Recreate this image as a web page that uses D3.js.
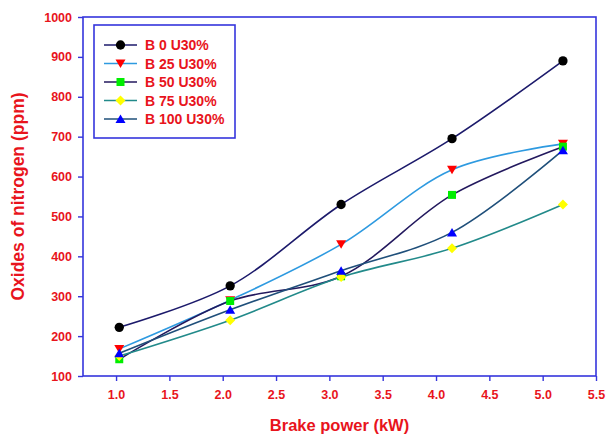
<!DOCTYPE html>
<html>
<head>
<meta charset="utf-8">
<script src="https://cdn.jsdelivr.net/npm/d3@7"></script>
<style>
  html, body { margin: 0; padding: 0; background: #ffffff; }
  svg { display: block; }
  text { font-family: "Liberation Sans", Arial, sans-serif; }
</style>
</head>
<body>
<svg id="chart" width="607" height="436"></svg>
<script>
// Brake power (kW) at each load step
const brakePower = [1.03, 2.07, 3.11, 4.15, 5.19];

// NOx emissions (ppm) per blend
const seriesNames = ["B 0 U30%", "B 25 U30%", "B 50 U30%", "B 75 U30%", "B 100 U30%"];
const b0   = [222, 326, 530, 695, 890];
const b25  = [168, 290, 430, 617, 682];
const b50  = [142, 288, 350, 554, 675];
const b75  = [150, 240, 348, 420, 530];
const b100 = [157, 266, 364, 460, 666];

const xTicks = [1.0, 1.5, 2.0, 2.5, 3.0, 3.5, 4.0, 4.5, 5.0, 5.5];
const yTicks = [100, 200, 300, 400, 500, 600, 700, 800, 900, 1000];

const seriesValues = [b0, b25, b50, b75, b100];
const lineColors = ["#1c1a6b", "#2e9ae0", "#23195e", "#228a8a", "#1f4f7a"];
const markerFill = ["#000000", "#ff0000", "#00ee00", "#ffff00", "#0000ff"];

const svg = d3.select("#chart");
const margin = { left: 83, top: 17, right: 11, bottom: 60 };
const W = 607, H = 436;
const x = d3.scaleLinear().domain([0.69, 5.5]).range([margin.left, W - margin.right]);
const y = d3.scaleLinear().domain([100, 1000]).range([H - margin.bottom, margin.top]);

const axisBlue = "#3535dc";
const red = "#e8141c";

// plot frame
svg.append("rect")
  .attr("x", x(0.69)).attr("y", y(1000))
  .attr("width", x(5.5) - x(0.69)).attr("height", y(100) - y(1000))
  .attr("fill", "none").attr("stroke", axisBlue).attr("stroke-width", 1.6);

// bottom axis
const gx = svg.append("g").attr("transform", `translate(0,${y(100)})`)
  .call(d3.axisBottom(x).tickValues(xTicks).tickFormat(d3.format(".1f")).tickSize(5).tickPadding(9));
// left axis
const gy = svg.append("g").attr("transform", `translate(${x(0.69)},0)`)
  .call(d3.axisLeft(y).tickValues(yTicks).tickFormat(d3.format("d")).tickSize(5).tickPadding(6));

[gx, gy].forEach(g => {
  g.select(".domain").remove();
  g.selectAll(".tick line").attr("stroke", axisBlue).attr("stroke-width", 1.4);
  g.selectAll(".tick text")
    .attr("fill", red).attr("font-size", 12.5).attr("font-weight", "bold")
    .style("font-family", "'Liberation Sans', Arial, sans-serif");
});

// axis titles
svg.append("text")
  .attr("x", (x(0.69) + x(5.5)) / 2).attr("y", 431)
  .attr("text-anchor", "middle").attr("fill", red)
  .attr("font-size", 16.5).attr("font-weight", "bold")
  .text("Brake power (kW)");
svg.append("text")
  .attr("transform", `translate(24,${(y(100) + y(1000)) / 2}) rotate(-90)`)
  .attr("text-anchor", "middle").attr("fill", red)
  .attr("font-size", 17.5).attr("font-weight", "bold")
  .text("Oxides of nitrogen (ppm)");

// marker glyphs: circle, down-triangle, square, diamond, up-triangle
const markerPath = [
  d3.symbol().type(d3.symbolCircle).size(68)(),
  "M-5,-4L5,-4L0,4.5Z",
  "M-4,-4L4,-4L4,4L-4,4Z",
  "M0,-5L5,0L0,5L-5,0Z",
  "M-5,4L5,4L0,-4.5Z"
];

const line = d3.line()
  .x((d, i) => x(brakePower[i]))
  .y(d => y(d))
  .curve(d3.curveCatmullRom.alpha(0.5));

// series lines
seriesValues.forEach((vals, i) => {
  svg.append("path")
    .datum(vals)
    .attr("d", line)
    .attr("fill", "none")
    .attr("stroke", lineColors[i])
    .attr("stroke-width", 1.6);
});

// markers drawn last so lines sit beneath them
seriesValues.forEach((vals, i) => {
  svg.append("g").selectAll("path")
    .data(vals)
    .join("path")
    .attr("d", markerPath[i])
    .attr("transform", (d, j) => `translate(${x(brakePower[j])},${y(d)})`)
    .attr("fill", markerFill[i]);
});

// legend
const legend = svg.append("g");
legend.append("rect")
  .attr("x", 94).attr("y", 25).attr("width", 141).attr("height", 113)
  .attr("fill", "#ffffff").attr("stroke", axisBlue).attr("stroke-width", 1.6);
seriesNames.forEach((name, i) => {
  const ly = 45 + i * 18.5;
  legend.append("line")
    .attr("x1", 104).attr("x2", 137).attr("y1", ly).attr("y2", ly)
    .attr("stroke", lineColors[i]).attr("stroke-width", 1.6);
  legend.append("path")
    .attr("d", markerPath[i])
    .attr("transform", `translate(120.5,${ly})`)
    .attr("fill", markerFill[i]);
  legend.append("text")
    .attr("x", 145).attr("y", ly + 5)
    .attr("fill", red).attr("font-size", 14).attr("font-weight", "bold")
    .text(name);
});
</script>
</body>
</html>
